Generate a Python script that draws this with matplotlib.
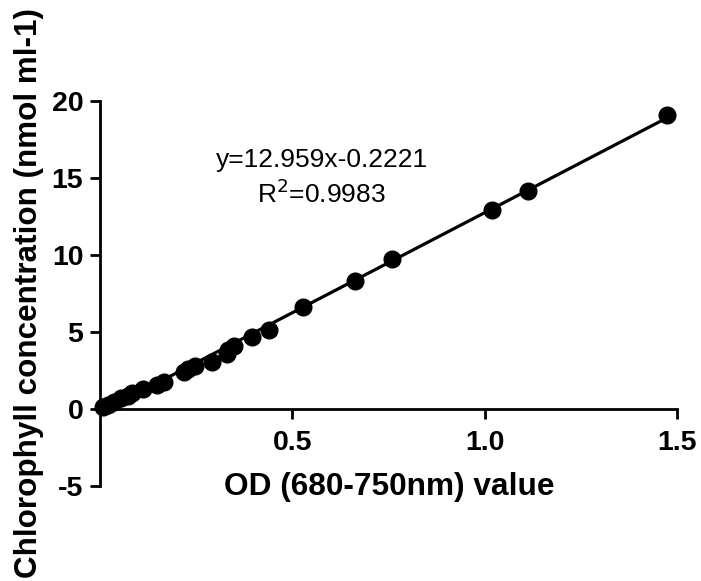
import numpy as np
import matplotlib
matplotlib.use("Agg")
import matplotlib.pyplot as plt

plt.rcParams['font.family'] = ['Liberation Sans', 'DejaVu Sans']

# valores
od_valor = [0.008, 0.020, 0.037, 0.055, 0.072, 0.084, 0.113, 0.148, 0.166,
            0.218, 0.230, 0.247, 0.291, 0.329, 0.334, 0.348, 0.396, 0.439,
            0.529, 0.663, 0.760, 1.019, 1.114, 1.474]
clorofila = [0.12, 0.31, 0.48, 0.72, 0.89, 1.08, 1.32, 1.56, 1.80,
             2.40, 2.64, 2.83, 3.05, 3.60, 3.84, 4.13, 4.68, 5.16,
             6.65, 8.33, 9.77, 12.92, 14.17, 19.07]
inclinacao = 12.959
intercepto = -0.2221
r2 = 0.9983
xticks = [0.5, 1.0, 1.5]
yticks = [-5, 0, 5, 10, 15, 20]

fig = plt.figure(figsize=(7.01, 5.81), dpi=100)
ax = fig.add_axes([0.1427, 0.1627, 0.8227, 0.664])

xs = np.array([0.0, max(od_valor)])
ax.plot(xs, inclinacao * xs + intercepto, color='black', lw=2.3, zorder=2, clip_on=False)
ax.plot(od_valor, clorofila, 'o', color='black', ms=12, zorder=3, clip_on=False)

ax.set_xlim(0, 1.5); ax.set_ylim(-5, 20)
ax.spines['top'].set_visible(False); ax.spines['right'].set_visible(False)
ax.spines['bottom'].set_position(('data', 0))
for s in ['left', 'bottom']:
    ax.spines[s].set_linewidth(2.0)
ax.set_xticks(xticks); ax.set_yticks(yticks)
ax.set_xticklabels(['0.5', '1.0', '1.5'])
ax.set_yticklabels(['-5', '0', '5', '10', '15', '20'])
ax.tick_params(width=2.0, length=7, labelsize=20.5)
ax.tick_params(axis='x', pad=8)
ax.tick_params(axis='y', pad=5)
for lb in ax.get_xticklabels() + ax.get_yticklabels():
    lb.set_fontweight('bold')

# posicao da equacao em coordenadas de dados
tx = (321.5 - 100) / 384.5
ax.text(tx, (409.3 - 167) / 15.43, f"y={inclinacao}x{intercepto}", ha='center', va='baseline', fontsize=19)
ax.text(tx, (409.3 - 203) / 15.43, f"R$^2$={r2}", ha='center', va='baseline', fontsize=19)

fig.text(389 / 701, 1 - 495 / 581, "OD (680-750nm) value", ha='center', va='baseline',
         fontsize=22.8, fontweight='bold')
fig.text(37 / 701, 1 - 293.5 / 581, "Chlorophyll concentration (nmol ml-1)", ha='center', va='baseline',
         rotation=90, rotation_mode='anchor', fontsize=22.6, fontweight='bold')

plt.savefig("out.png", dpi=100)
